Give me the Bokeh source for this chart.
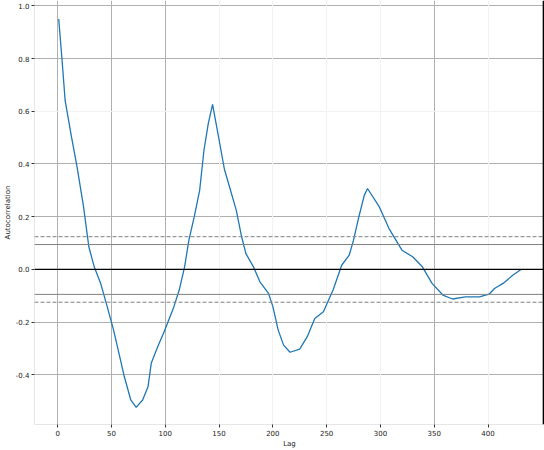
import numpy as np
from bokeh.embed import file_html
from bokeh.models import FixedTicker, Grid, NumeralTickFormatter, Range1d, Span
from bokeh.plotting import figure
from bokeh.resources import INLINE

# autocorrelation (lag, value)
lags = [1, 4, 7, 10, 13, 18, 24, 29, 34, 40, 46, 52, 57, 62, 68, 73, 79, 84,
        87, 93, 99, 108, 113, 118, 122, 127, 132, 136, 140, 144, 149, 155,
        160, 166, 171, 175, 182, 188, 196, 200, 205, 210, 216, 225, 232, 239,
        247, 256, 264, 271, 275, 280, 285, 288, 299, 308, 320, 330, 339, 348,
        358, 367, 379, 392, 401, 406, 414, 423, 431]
acf = [0.95, 0.80, 0.64, 0.57, 0.50, 0.39, 0.24, 0.086, 0.01, -0.053, -0.14,
       -0.23, -0.318, -0.407, -0.495, -0.523, -0.495, -0.445, -0.356, -0.293,
       -0.236, -0.142, -0.078, 0.01, 0.111, 0.20, 0.30, 0.452, 0.553, 0.626,
       0.515, 0.38, 0.31, 0.225, 0.124, 0.06, 0.01, -0.047, -0.091, -0.14,
       -0.23, -0.287, -0.314, -0.302, -0.255, -0.186, -0.16, -0.078, 0.016,
       0.054, 0.111, 0.20, 0.281, 0.307, 0.237, 0.155, 0.073, 0.048, 0.01,
       -0.053, -0.097, -0.112, -0.104, -0.104, -0.094, -0.072, -0.053,
       -0.022, 0.001]

n_obs = 430
z95 = 1.959963984540054 / np.sqrt(n_obs)
z99 = 2.5758293035489 / np.sqrt(n_obs)

x_ticks = [0, 50, 100, 150, 200, 250, 300, 350, 400]
y_ticks = [-0.4, -0.2, 0.0, 0.2, 0.4, 0.6, 0.8, 1.0]
# grid lines that show up only faintly in the picture
x_faint = [150, 200, 250, 300, 400]
y_faint = [0.6]

p = figure(width=544, height=450, output_backend="svg", toolbar_location=None,
           x_range=Range1d(-21.5, 452.5), y_range=Range1d(-0.588, 1.02),
           x_axis_label="Lag", y_axis_label="Autocorrelation",
           min_border_left=0, min_border_right=0, min_border_top=0,
           min_border_bottom=0)

p.background_fill_color = "white"
p.border_fill_color = "white"
p.outline_line_color = None

p.xaxis.ticker = FixedTicker(ticks=x_ticks)
p.yaxis.ticker = FixedTicker(ticks=y_ticks)
p.yaxis.formatter = NumeralTickFormatter(format="0.0")

for ax in (p.xaxis, p.yaxis):
    ax.axis_line_color = "#e6e6e6"
    ax.major_tick_line_color = "#333333"
    ax.major_tick_out = 3
    ax.major_tick_in = 0
    ax.minor_tick_line_color = None
    ax.major_label_text_font = "DejaVu Sans"
    ax.major_label_text_font_size = "7px"
    ax.major_label_text_color = "#222222"
    ax.major_label_standoff = 2
    ax.axis_label_text_font = "DejaVu Sans"
    ax.axis_label_text_font_size = "7px"
    ax.axis_label_text_font_style = "normal"
    ax.axis_label_text_color = "#222222"
    ax.axis_label_standoff = 1

p.xgrid.ticker = FixedTicker(ticks=[t for t in x_ticks if t not in x_faint])
p.ygrid.ticker = FixedTicker(ticks=[t for t in y_ticks if t not in y_faint])
p.grid.grid_line_color = "#b0b0b0"
p.grid.grid_line_width = 1
p.add_layout(Grid(dimension=0, ticker=FixedTicker(ticks=x_faint),
                  grid_line_color="#f2f2f2", grid_line_width=1))
p.add_layout(Grid(dimension=1, ticker=FixedTicker(ticks=y_faint),
                  grid_line_color="#f2f2f2", grid_line_width=1))

# confidence bands and zero line
for lvl in (z95, -z95):
    p.add_layout(Span(location=lvl, dimension="width", line_color="#808080",
                      line_width=1))
for lvl in (z99, -z99):
    p.add_layout(Span(location=lvl, dimension="width", line_color="#808080",
                      line_width=1, line_dash="4 2"))
p.add_layout(Span(location=0, dimension="width", line_color="black",
                  line_width=1.2))

p.line(lags, acf, line_color="#1f77b4", line_width=1.3)

# right frame edge
p.add_layout(Span(location=451.5, dimension="height", line_color="black",
                  line_width=1.5))

open("out.html", "w").write(file_html(p, INLINE))
